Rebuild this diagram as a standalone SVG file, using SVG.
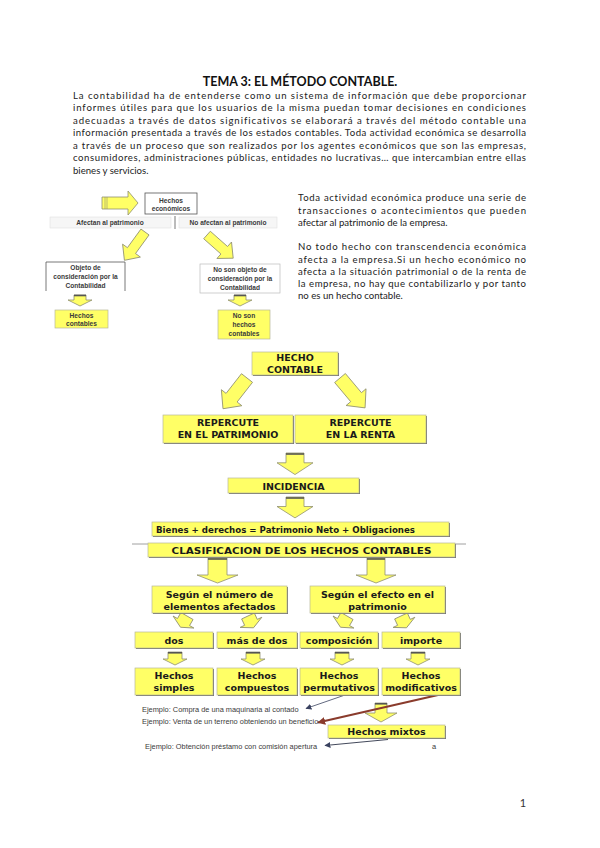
<svg xmlns="http://www.w3.org/2000/svg" width="600" height="848" viewBox="0 0 600 848">
<style>
.bg{fill:#fff}
.title{font-family:Lato,"Open Sans",sans-serif;font-weight:bold;font-size:12.5px;fill:#111;font-variant-ligatures:none}
.p{font-family:Lato,"Open Sans",sans-serif;font-size:9.6px;fill:#222;font-variant-ligatures:none;font-feature-settings:"liga" 0,"dlig" 0}
.sm{font-family:"Liberation Sans",Arial,sans-serif;font-weight:bold;font-size:6.6px;fill:#3a3a3a}
.lb{font-family:"DejaVu Sans",Verdana,sans-serif;font-weight:bold;font-size:9.5px;fill:#1a1a1a}
.ex{font-family:"Liberation Sans",Arial,sans-serif;font-size:7.4px;fill:#3a3a3a}
.yb{fill:#FFFF66;stroke:#b8b89a;stroke-width:0.7}
.sh{fill:#707070}
.wb{fill:#fff;stroke:#555;stroke-width:0.8}
.ar{fill:#FFFF66;stroke:#8f8f70;stroke-width:0.8;stroke-linejoin:round}
.band{fill:#f6f6f6;stroke:#e0e0e0;stroke-width:0.6}
.cap{stroke:#555;stroke-width:1.6}
</style>
<defs>
<marker id="mThin" viewBox="0 0 10 10" refX="9" refY="5" markerWidth="6" markerHeight="6" orient="auto-start-reverse" markerUnits="userSpaceOnUse"><path d="M0,0 L10,5 L0,10 Z" fill="#3a4260"/></marker>
<marker id="mBrown" viewBox="0 0 10 10" refX="9" refY="5" markerWidth="8" markerHeight="8" orient="auto-start-reverse" markerUnits="userSpaceOnUse"><path d="M0,0 L10,5 L0,10 Z" fill="#8a3b2c"/></marker>
<path id="downBig" d="M-9,0 H9 V10 H18 L0,22 L-18,10 H-9 Z"/>
<path id="downSm" d="M-7,0 H7 V7 H12 L0,13 L-12,7 H-7 Z"/>
<path id="diagBig" d="M0,-7 H25 V-13 L39,0 L25,13 V7 H0 Z"/>
<path id="diagSm" d="M0,-5 H23 V-11 L35,0 L23,11 V5 H0 Z"/>
</defs>
<rect class="bg" x="0" y="0" width="600" height="848"/>

<g id="header">
<text class="title" x="300" y="86" text-anchor="middle">TEMA 3: EL MÉTODO CONTABLE.</text>
<text class="p" x="73" y="98.5" textLength="453" lengthAdjust="spacing">La contabilidad ha de entenderse como un sistema de información que debe proporcionar</text>
<text class="p" x="73" y="111" textLength="453" lengthAdjust="spacing">informes útiles para que los usuarios de la misma puedan tomar decisiones en condiciones</text>
<text class="p" x="73" y="123.5" textLength="453" lengthAdjust="spacing">adecuadas a través de datos significativos se elaborará  a través del método contable una</text>
<text class="p" x="73" y="136" textLength="453" lengthAdjust="spacing">información presentada a través de los estados contables.   Toda actividad económica se desarrolla</text>
<text class="p" x="73" y="148.5" textLength="453" lengthAdjust="spacing">a través de un proceso que son realizados por los agentes económicos que son las empresas,</text>
<text class="p" x="73" y="161" textLength="453" lengthAdjust="spacing">consumidores, administraciones públicas, entidades no lucrativas… que intercambian entre ellas</text>
<text class="p" x="73" y="173.5">bienes y servicios.</text>
</g>

<g id="side-text">
<text class="p" x="298" y="201" textLength="228" lengthAdjust="spacing">Toda actividad económica produce una serie de</text>
<text class="p" x="298" y="213.5" textLength="228" lengthAdjust="spacing">transacciones o  acontecimientos que pueden</text>
<text class="p" x="298" y="226">afectar al patrimonio de la empresa.</text>
<text class="p" x="298" y="250" textLength="228" lengthAdjust="spacing">No todo hecho con transcendencia económica</text>
<text class="p" x="298" y="262.5" textLength="228" lengthAdjust="spacing">afecta a la empresa.Si un hecho económico no</text>
<text class="p" x="298" y="274.5" textLength="228" lengthAdjust="spacing">afecta a la situación patrimonial o de la renta de</text>
<text class="p" x="298" y="287" textLength="228" lengthAdjust="spacing">la empresa, no hay que contabilizarlo y por tanto</text>
<text class="p" x="298" y="299">no es un hecho contable.</text>
</g>

<!-- small diagram -->
<g id="connectors-small">
<path class="ar" d="M102,197 H128 V191 L138,203 L128,215 V209 H102 Z"/>
<line x1="105" y1="197" x2="105" y2="209" stroke="#8f8f70" stroke-width="0.6"/>
<line x1="107" y1="197" x2="107" y2="209" stroke="#8f8f70" stroke-width="0.6"/>
<use href="#diagSm" class="ar" transform="translate(145,232) rotate(126)"/>
<use href="#diagSm" class="ar" transform="translate(207,235) rotate(41.5)"/>
<path class="ar" d="M74,295 H86 V300 H92 L80,306 L68,300 H74 Z"/>
<line class="cap" x1="74" y1="295.5" x2="86" y2="295.5"/>
<path class="ar" d="M234,295 H246 V300 H252 L240,306 L228,300 H234 Z"/>
<line class="cap" x1="234" y1="295.5" x2="246" y2="295.5"/>
</g>
<g id="n-hechos-economicos">
<rect class="wb" x="145" y="193" width="52" height="21" stroke="#999"/>
<text class="sm" x="171" y="202.5" text-anchor="middle">Hechos</text>
<text class="sm" x="171" y="211" text-anchor="middle">económicos</text>
</g>
<g id="n-afectan">
<rect class="band" x="50" y="217" width="121" height="11"/>
<text class="sm" x="110" y="225" text-anchor="middle">Afectan al patrimonio</text>
</g>
<line x1="175" y1="216" x2="175" y2="229" stroke="#555" stroke-width="0.8"/>
<g id="n-no-afectan">
<rect class="band" x="179" y="217" width="98" height="11"/>
<text class="sm" x="228" y="225" text-anchor="middle">No afectan al patrimonio</text>
</g>
<g id="n-objeto">
<rect x="46" y="262" width="79" height="29" fill="#fff"/>
<path d="M46,291 V262 H125 V291" fill="none" stroke="#555" stroke-width="0.8"/>
<text class="sm" x="85.5" y="269.5" text-anchor="middle">Objeto de</text>
<text class="sm" x="85.5" y="278.5" text-anchor="middle">consideración por la</text>
<text class="sm" x="85.5" y="287.5" text-anchor="middle">Contabilidad</text>
</g>
<g id="n-no-objeto">
<rect x="200" y="264" width="80" height="29" fill="#fff" stroke="#bbb" stroke-width="0.7"/>
<text class="sm" x="240" y="272" text-anchor="middle">No son objeto de</text>
<text class="sm" x="240" y="281" text-anchor="middle">consideración por la</text>
<text class="sm" x="240" y="290" text-anchor="middle">Contabilidad</text>
</g>
<g id="n-hechos-contables-sm">
<rect class="yb" x="55" y="310" width="53" height="18"/>
<text class="sm" x="81.5" y="318" text-anchor="middle">Hechos</text>
<text class="sm" x="81.5" y="326" text-anchor="middle">contables</text>
</g>
<g id="n-no-hechos">
<rect class="yb" x="218" y="310" width="52" height="29"/>
<text class="sm" x="244" y="318" text-anchor="middle">No son</text>
<text class="sm" x="244" y="327" text-anchor="middle">hechos</text>
<text class="sm" x="244" y="336" text-anchor="middle">contables</text>
</g>

<!-- main diagram connectors -->
<g id="connectors">
<use href="#diagBig" class="ar" transform="translate(247,378) rotate(128)"/>
<use href="#diagBig" class="ar" transform="translate(340,378) rotate(50)"/>
<use href="#downBig" class="ar" transform="translate(295,453) scale(1,0.98)"/>
<line class="cap" x1="286" y1="454" x2="304" y2="454"/>
<use href="#downBig" class="ar" transform="translate(295,497) scale(1,0.95)"/>
<line class="cap" x1="286" y1="498" x2="304" y2="498"/>
<line x1="132" y1="544" x2="148" y2="544" stroke="#888" stroke-width="0.8"/>
<line x1="455" y1="544" x2="466" y2="544" stroke="#888" stroke-width="0.8"/>
<path class="ar" d="M208,558 H227 V575 H238 L217.5,583 L197,575 H208 Z"/>
<line class="cap" x1="208" y1="559" x2="227" y2="559"/>
<path class="ar" d="M367,558 H385 V575 H396 L376,583 L356,575 H367 Z"/>
<line class="cap" x1="367" y1="559" x2="385" y2="559"/>
<use href="#downSm" class="ar" transform="translate(187,616) rotate(30)"/>
<use href="#downSm" class="ar" transform="translate(248,616) rotate(-25)"/>
<use href="#downSm" class="ar" transform="translate(347,616) rotate(30)"/>
<use href="#downSm" class="ar" transform="translate(401,616) rotate(-25)"/>
<use href="#downSm" class="ar" transform="translate(175,652)"/>
<line class="cap" x1="168" y1="652.8" x2="182" y2="652.8"/>
<use href="#downSm" class="ar" transform="translate(253,652)"/>
<line class="cap" x1="246" y1="652.8" x2="260" y2="652.8"/>
<use href="#downSm" class="ar" transform="translate(342,652)"/>
<line class="cap" x1="335" y1="652.8" x2="349" y2="652.8"/>
<use href="#downSm" class="ar" transform="translate(418,652)"/>
<line class="cap" x1="411" y1="652.8" x2="425" y2="652.8"/>
<path class="ar" d="M375,703 H387 V713 H397 L381,722 L365,713 H375 Z"/>
<line class="cap" x1="375" y1="703.8" x2="387" y2="703.8"/>
<line x1="345" y1="695" x2="306" y2="708.5" stroke="#3a4260" stroke-width="0.8" marker-end="url(#mThin)"/>
<line x1="438" y1="695" x2="318" y2="722.5" stroke="#8a3b2c" stroke-width="2" marker-end="url(#mBrown)"/>
<line x1="388" y1="739.5" x2="325" y2="745.5" stroke="#2e3448" stroke-width="0.9" marker-end="url(#mThin)"/>
</g>

<g id="n-hecho-contable">
<rect class="sh" x="253" y="353" width="86" height="23"/>
<rect class="yb" x="252" y="352" width="86" height="23"/>
<text class="lb" x="295" y="361" text-anchor="middle" font-size="10">HECHO</text>
<text class="lb" x="295" y="372.5" text-anchor="middle" font-size="10">CONTABLE</text>
</g>
<g id="n-rep-patrimonio">
<rect class="sh" x="164" y="416" width="130" height="28"/>
<rect class="yb" x="163" y="415" width="130" height="28"/>
<text class="lb" x="228" y="426" text-anchor="middle">REPERCUTE</text>
<text class="lb" x="228" y="438" text-anchor="middle">EN EL PATRIMONIO</text>
</g>
<g id="n-rep-renta">
<rect class="sh" x="296" y="416" width="131" height="28"/>
<rect class="yb" x="295" y="415" width="131" height="28"/>
<text class="lb" x="360.5" y="426" text-anchor="middle">REPERCUTE</text>
<text class="lb" x="360.5" y="438" text-anchor="middle">EN LA RENTA</text>
</g>
<g id="n-incidencia">
<rect class="sh" x="229" y="479" width="131" height="15"/>
<rect class="yb" x="228" y="478" width="131" height="15"/>
<text class="lb" x="293.5" y="489.5" text-anchor="middle" font-size="9">INCIDENCIA</text>
</g>
<g id="n-ecuacion">
<rect class="sh" x="153" y="523" width="297" height="14"/>
<rect class="yb" x="152" y="522" width="297" height="14"/>
<text class="lb" x="156" y="532.5" font-size="9" textLength="259" lengthAdjust="spacingAndGlyphs">Bienes + derechos = Patrimonio Neto + Obligaciones</text>
</g>
<g id="n-clasificacion">
<rect class="sh" x="149" y="544" width="307" height="14"/>
<rect class="yb" x="148" y="543" width="307" height="14"/>
<text class="lb" x="301.5" y="553.5" text-anchor="middle" font-size="10" textLength="260" lengthAdjust="spacingAndGlyphs">CLASIFICACION DE LOS HECHOS CONTABLES</text>
</g>
<g id="n-segun-numero">
<rect class="sh" x="153" y="587" width="135" height="27"/>
<rect class="yb" x="152" y="586" width="135" height="27"/>
<text class="lb" x="219.5" y="597.5" text-anchor="middle" font-size="10">Según el número de</text>
<text class="lb" x="219.5" y="610" text-anchor="middle" font-size="10">elementos afectados</text>
</g>
<g id="n-segun-efecto">
<rect class="sh" x="311" y="587" width="135" height="27"/>
<rect class="yb" x="310" y="586" width="135" height="27"/>
<text class="lb" x="377.5" y="597.5" text-anchor="middle" font-size="10">Según el efecto en el</text>
<text class="lb" x="377.5" y="610" text-anchor="middle" font-size="10">patrimonio</text>
</g>
<g id="n-dos">
<rect class="sh" x="136" y="633" width="78" height="16"/>
<rect class="yb" x="135" y="632" width="78" height="16"/>
<text class="lb" x="174" y="644" text-anchor="middle">dos</text>
</g>
<g id="n-mas-de-dos">
<rect class="sh" x="218" y="633" width="80" height="16"/>
<rect class="yb" x="217" y="632" width="80" height="16"/>
<text class="lb" x="257" y="644" text-anchor="middle">más de dos</text>
</g>
<g id="n-composicion">
<rect class="sh" x="301" y="633" width="78" height="16"/>
<rect class="yb" x="300" y="632" width="78" height="16"/>
<text class="lb" x="339" y="644" text-anchor="middle">composición</text>
</g>
<g id="n-importe">
<rect class="sh" x="383" y="633" width="78" height="16"/>
<rect class="yb" x="382" y="632" width="78" height="16"/>
<text class="lb" x="421" y="644" text-anchor="middle">importe</text>
</g>
<g id="n-simples">
<rect class="sh" x="136" y="669" width="78" height="27"/>
<rect class="yb" x="135" y="668" width="78" height="27"/>
<text class="lb" x="174" y="679" text-anchor="middle">Hechos</text>
<text class="lb" x="174" y="691" text-anchor="middle">simples</text>
</g>
<g id="n-compuestos">
<rect class="sh" x="218" y="669" width="80" height="27"/>
<rect class="yb" x="217" y="668" width="80" height="27"/>
<text class="lb" x="257" y="679" text-anchor="middle">Hechos</text>
<text class="lb" x="257" y="691" text-anchor="middle">compuestos</text>
</g>
<g id="n-permutativos">
<rect class="sh" x="301" y="669" width="78" height="27"/>
<rect class="yb" x="300" y="668" width="78" height="27"/>
<text class="lb" x="339" y="679" text-anchor="middle">Hechos</text>
<text class="lb" x="339" y="691" text-anchor="middle">permutativos</text>
</g>
<g id="n-modificativos">
<rect class="sh" x="383" y="669" width="78" height="27"/>
<rect class="yb" x="382" y="668" width="78" height="27"/>
<text class="lb" x="421" y="679" text-anchor="middle">Hechos</text>
<text class="lb" x="421" y="691" text-anchor="middle">modificativos</text>
</g>
<g id="n-mixtos">
<rect class="sh" x="329" y="726" width="117" height="13"/>
<rect class="yb" x="328" y="725" width="117" height="13"/>
<text class="lb" x="386.5" y="735" text-anchor="middle">Hechos mixtos</text>
</g>
<g id="examples">
<text class="ex" x="142" y="711.5">Ejemplo: Compra de una maquinaria al contado</text>
<text class="ex" x="142" y="723.5">Ejemplo: Venta de un terreno obteniendo un beneficio</text>
<text class="ex" x="145" y="748.5">Ejemplo: Obtención préstamo con comisión apertura</text>
<text class="ex" x="432" y="749">a</text>
</g>
<text x="523" y="807" font-family="Lato,'Open Sans',sans-serif" font-size="11" fill="#333" text-anchor="middle">1</text>
</svg>
